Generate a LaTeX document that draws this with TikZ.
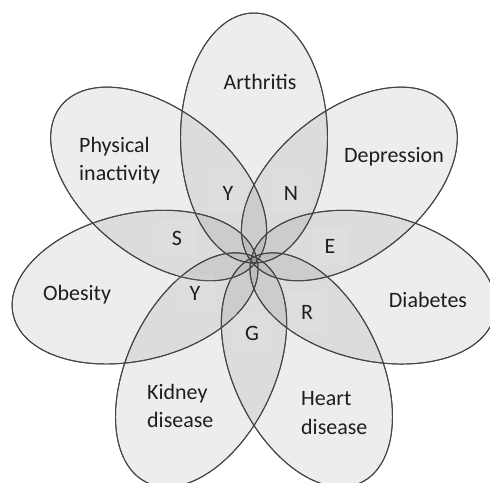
\documentclass[tikz,border=0pt]{standalone}
\usepackage{fontspec}
\setmainfont{Carlito}
\usepackage{xcolor}
\usepackage{tikz}
\usetikzlibrary{positioning,calc}
\definecolor{pline}{HTML}{454545}
\definecolor{ptext}{HTML}{1E1E1E}
\tikzset{
  petal/.style={draw=pline,line width=0.55pt,fill=black,fill opacity=0.07},
  petallabel/.style={text=ptext,font=\fontsize{12.5}{16}\selectfont,align=left},
  letterbox/.style={text=ptext,font=\fontsize{12.5}{16}\selectfont,
    fill=white,fill opacity=0.07,text opacity=1,minimum size=22pt,inner sep=1pt}
}

\begin{document}
\begin{tikzpicture}[x=0.02cm,y=0.02cm]
      \useasboundingbox (0,0) rectangle (490,483);
      \coordinate (mid) at (254,223);

      % Petals
      \foreach \ang in {90,38.57,-12.86,-64.29,-115.71,-167.14,141.43}
        \fill[petal,rotate around={\ang:(mid)}]
          ($(mid)+(122,0)$) ellipse [x radius=125,y radius=73.5];
      \foreach \ang in {90,38.57,-12.86,-64.29,-115.71,-167.14,141.43}
        \draw[petal,fill=none,rotate around={\ang:(mid)}]
          ($(mid)+(122,0)$) ellipse [x radius=125,y radius=73.5];

      % Petal labels
      \node[petallabel] (arthritis) at (260,401) {Arthritis};
      \node[petallabel] (depression) at (394,326) {Depression};
      \node[petallabel] (diabetes) at (428,183) {Diabetes};
      \node[petallabel,anchor=west] (heart) at (295,70) {Heart\\disease};
      \node[petallabel,anchor=west] (kidney) at (141,77) {Kidney\\disease};
      \node[petallabel] (obesity) at (77,188) {Obesity};
      \node[petallabel,anchor=west] (inactivity) at (73,322) {Physical\\inactivity};

      % Letters in the overlaps
      \node[letterbox] (y1) at (228,290) {Y};
      \node[letterbox] (n) at (291,290) {N};
      \node[letterbox] (s) at (177,245) {S};
      \node[letterbox] (e) at (330,237) {E};
      \node[letterbox] (y2) at (195,190) {Y};
      \node[letterbox] (r) at (307,171) {R};
      \node[letterbox] (g) at (252,150) {G};
\end{tikzpicture}
\end{document}
